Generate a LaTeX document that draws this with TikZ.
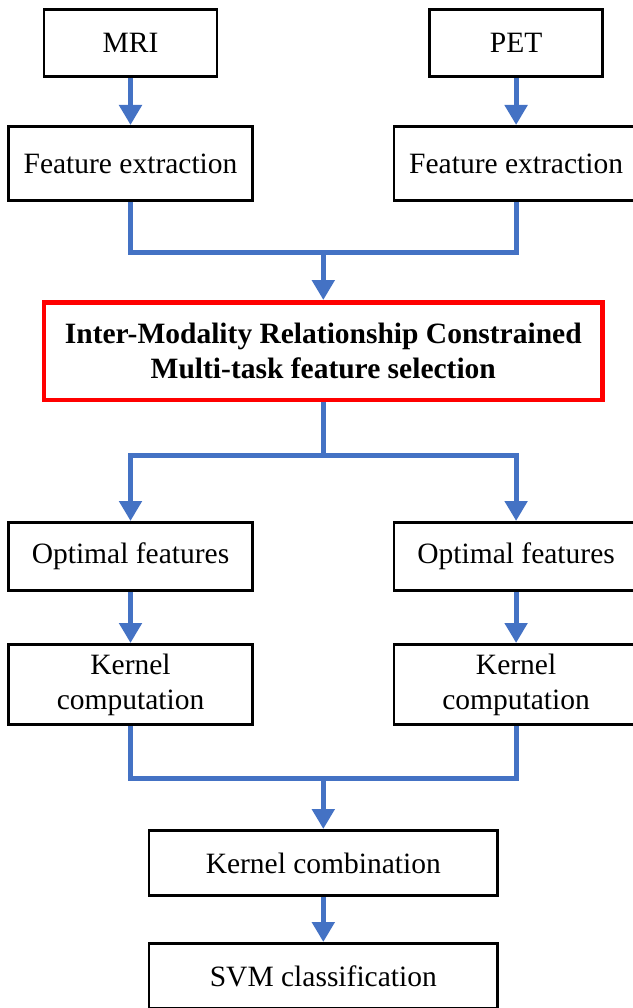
\documentclass[tikz,border=0pt]{standalone}
\usepackage{fontspec}
\setmainfont{Liberation Serif}
\usetikzlibrary{positioning,arrows.meta}
\definecolor{flowblue}{RGB}{68,114,196}
\definecolor{selred}{RGB}{255,0,0}

\begin{document}
\begin{tikzpicture}[x=1pt,y=1pt,
	box/.style={draw=black,line width=2.6pt,inner sep=0pt,align=center,
		font=\fontsize{29.5}{35}\selectfont},
	inbox/.style={box,minimum width=173pt,minimum height=67.4pt},
	sidebox/.style={box,minimum width=244.4pt},
	midbox/.style={box,minimum width=348.4pt,minimum height=65.4pt},
	selbox/.style={box,draw=selred,line width=4.5pt,minimum width=558.5pt,
		minimum height=97.5pt,font=\fontsize{29.5}{35}\selectfont\bfseries},
	flow/.style={draw=flowblue,line width=5pt},
	flowarrow/.style={flow,-{Triangle[width=22pt,length=20pt]}}]
		\useasboundingbox (0,0) rectangle (632,-1008);
		
		\node[inbox] (mri) at (130.5,-43) {MRI};
		\node[inbox, right=210pt of mri] (pet) {PET};
		\node[sidebox, minimum height=74.4pt, below=47pt of mri] (fe1) {Feature extraction};
		\node[sidebox, minimum height=74.4pt, below=47pt of pet] (fe2) {Feature extraction};
		
		\path (fe1.south) -- (fe2.south) coordinate[pos=.5] (mid1);
		\coordinate[below=50pt of mid1] (join1);
		\node[selbox, below=48pt of join1] (sel) {Inter-Modality Relationship Constrained\\Multi-task feature selection};
		\coordinate[below=53pt of sel.south] (split);
		
		\node[sidebox, minimum height=68.4pt, below=319pt of fe1] (opt1) {Optimal features};
		\node[sidebox, minimum height=68.4pt, below=319pt of fe2] (opt2) {Optimal features};
		\node[sidebox, minimum height=80.4pt, below=51pt of opt1] (ker1) {Kernel\\computation};
		\node[sidebox, minimum height=80.4pt, below=51pt of opt2] (ker2) {Kernel\\computation};
		
		\path (ker1.south) -- (ker2.south) coordinate[pos=.5] (mid2);
		\coordinate[below=52pt of mid2] (join2);
		\node[midbox, below=51pt of join2] (comb) {Kernel combination};
		\node[midbox, below=45pt of comb] (svm) {SVM classification};
		
		\draw[flowarrow] (mri) -- (fe1);
		\draw[flowarrow] (pet) -- (fe2);
		\draw[flow] (fe1.south) |- (join1) -| (fe2.south);
		\draw[flowarrow] (join1) -- (sel);
		\draw[flow] (sel) -- (split);
		\draw[flowarrow] (split) -| (opt1.north);
		\draw[flowarrow] (split) -| (opt2.north);
		\draw[flowarrow] (opt1) -- (ker1);
		\draw[flowarrow] (opt2) -- (ker2);
		\draw[flow] (ker1.south) |- (join2) -| (ker2.south);
		\draw[flowarrow] (join2) -- (comb);
		\draw[flowarrow] (comb) -- (svm);
\end{tikzpicture}
\end{document}
